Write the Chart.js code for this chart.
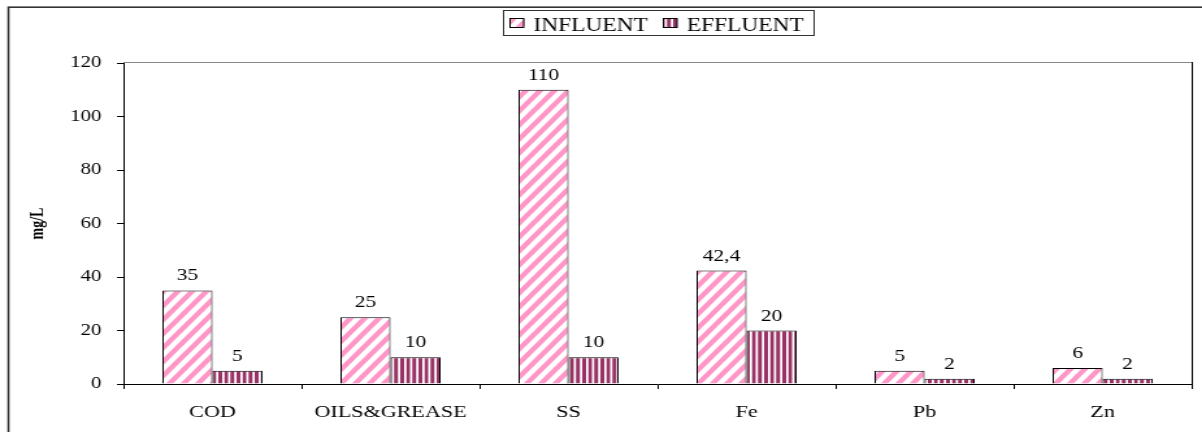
<!DOCTYPE html>
<html>
<head>
<meta charset="utf-8">
<script src="https://cdn.jsdelivr.net/npm/chart.js@4"></script>
<style>
  html, body { margin: 0; padding: 0; background: #fff; overflow: hidden; }
  /* the reference is stretched sideways, so draw narrow and widen it */
  #wrap { width: 925px; height: 432px; transform: scaleX(1.2995); transform-origin: 0 0; }
</style>
</head>
<body>
<div id="wrap"><canvas id="bar-chart" width="925" height="432"></canvas></div>
<script>
const categories = ['COD', 'OILS&GREASE', 'SS', 'Fe', 'Pb', 'Zn'];
const influent = [35, 25, 110, 42.4, 5, 6];
const effluent = [5, 10, 10, 20, 2, 2];
const seriesNames = ['INFLUENT', 'EFFLUENT'];
const yMin = 0;
const yMax = 120;
const yStep = 20;

const serif = '"Liberation Serif", "Times New Roman", serif';
const ctx = document.getElementById('bar-chart').getContext('2d');

// striped fills, drawn pixel by pixel with a little supersampling
function makePattern(w, h, rgb, inside) {
    const c = document.createElement('canvas');
    c.width = w;
    c.height = h;
    const g = c.getContext('2d');
    const img = g.createImageData(w, h);
    const n = 4;
    for (let y = 0; y < h; y++) {
        for (let x = 0; x < w; x++) {
            let hit = 0;
            for (let sy = 0; sy < n; sy++) {
                for (let sx = 0; sx < n; sx++) {
                    if (inside(x + (sx + 0.5) / n, y + (sy + 0.5) / n)) hit++;
                }
            }
            const a = hit / (n * n);
            const i = (y * w + x) * 4;
            img.data[i] = Math.round(255 + (rgb[0] - 255) * a);
            img.data[i + 1] = Math.round(255 + (rgb[1] - 255) * a);
            img.data[i + 2] = Math.round(255 + (rgb[2] - 255) * a);
            img.data[i + 3] = 255;
        }
    }
    g.putImageData(img, 0, 0);
    return ctx.createPattern(c, 'repeat');
}

const pinkDiag = makePattern(11, 14, [255, 150, 200], (x, y) => ((x / 11 + y / 14) % 1) < 0.5);
const maroonVert = makePattern(14, 2, [153, 51, 102], (x, y) => ((x / (14 / 3)) % 1) < 0.62);
const fills = [pinkDiag, maroonVert];

const fmt = v => String(v).replace('.', ',');

const extras = {
    id: 'extras',
    afterDraw(chart) {
        const c = chart.ctx;
        const area = chart.chartArea;
        c.save();

        // outer frame
        c.strokeStyle = '#333';
        c.lineWidth = 1.6;
        c.strokeRect(6.5, 7.2, chart.width + 20, chart.height + 20);

        // plot area border: top and right
        c.lineWidth = 1;
        c.strokeStyle = '#888';
        c.beginPath();
        c.moveTo(area.left, area.top - 0.5);
        c.lineTo(area.right, area.top - 0.5);
        c.stroke();
        c.strokeStyle = '#000';
        c.beginPath();
        c.moveTo(area.right + 0.5, area.top - 1);
        c.lineTo(area.right + 0.5, area.bottom);
        c.stroke();

        // value labels above bars
        c.fillStyle = '#000';
        c.font = '16.5px ' + serif;
        c.textAlign = 'center';
        c.textBaseline = 'alphabetic';
        chart.data.datasets.forEach((ds, di) => {
            chart.getDatasetMeta(di).data.forEach((bar, i) => {
                c.fillText(fmt(ds.data[i]), bar.x, bar.y - 10);
            });
        });

        // y axis title
        c.save();
        c.translate(29, (area.top + area.bottom) / 2);
        c.rotate(-Math.PI / 2);
        c.font = 'bold 14px ' + serif;
        c.textBaseline = 'middle';
        c.fillText('mg/L', 0, 0);
        c.restore();

        // legend with a box round it
        c.font = '18px ' + serif;
        c.textAlign = 'left';
        const sw = 11.5, gapA = 7, gapB = 11.5, padL = 4.5, padR = 8;
        const w0 = c.measureText(seriesNames[0]).width;
        const w1 = c.measureText(seriesNames[1]).width;
        const total = padL + sw + gapA + w0 + gapB + sw + gapA + w1 + padR;
        const cx = (area.left + area.right) / 2;
        const bx = Math.round(cx - total / 2) + 0.5;
        const by = 10.5, bh = 25;
        c.strokeStyle = '#333';
        c.strokeRect(bx, by, total, bh);
        let x = bx + padL;
        seriesNames.forEach((name, k) => {
            c.fillStyle = fills[k];
            c.fillRect(x, 18, sw, 10);
            c.strokeStyle = '#000';
            c.strokeRect(x + 0.5, 18.5, sw - 1, 9);
            x += sw + gapA;
            c.fillStyle = '#000';
            c.fillText(name, x, 30.5);
            x += (k === 0 ? w0 : w1) + gapB;
        });

        c.restore();
    }
};

const barChart = new Chart(ctx, {
    type: 'bar',
    data: {
        labels: categories,
        datasets: [{
            label: seriesNames[0],
            data: influent,
            backgroundColor: pinkDiag,
            borderColor: '#000',
            borderWidth: 1,
            categoryPercentage: 0.562,
            barPercentage: 1
        }, {
            label: seriesNames[1],
            data: effluent,
            backgroundColor: maroonVert,
            borderColor: '#000',
            borderWidth: 1,
            categoryPercentage: 0.562,
            barPercentage: 1
        }]
    },
    options: {
        responsive: false,
        devicePixelRatio: 1,
        animation: false,
        layout: {
            padding: { top: 63, right: 8, left: 0, bottom: 0 }
        },
        plugins: {
            legend: { display: false },
            title: { display: false },
            tooltip: { enabled: false }
        },
        scales: {
            x: {
                grid: { offset: true, drawOnChartArea: false, tickLength: 5, color: '#000' },
                border: { color: '#000', width: 1 },
                ticks: { color: '#000', font: { family: serif, size: 17 }, padding: 13 },
                afterFit: s => { s.height = 48; }
            },
            y: {
                min: yMin,
                max: yMax,
                grid: { drawOnChartArea: false, tickLength: 5, color: '#000' },
                border: { color: '#000', width: 1 },
                ticks: { stepSize: yStep, color: '#000', font: { family: serif, size: 16 }, padding: 12 },
                afterFit: s => { s.width = 95; }
            }
        }
    },
    plugins: [extras]
});
</script>
</body>
</html>
